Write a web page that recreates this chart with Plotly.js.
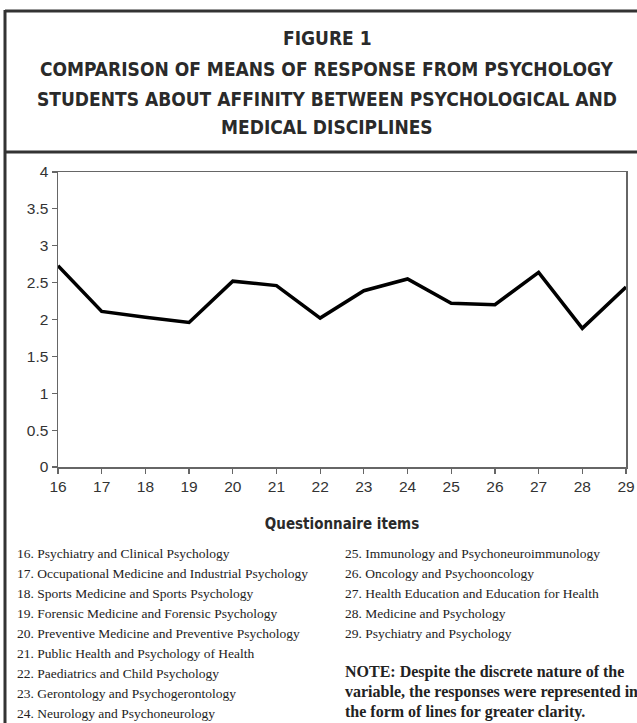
<!DOCTYPE html>
<html>
<head>
<meta charset="utf-8">
<script src="https://cdn.plot.ly/plotly-3.0.1.min.js"></script>
<style>html,body{margin:0;padding:0;background:#fff;}#chart{width:637px;height:723px;}</style>
</head>
<body>
<div id="chart"></div>
<script>
var items = [16, 17, 18, 19, 20, 21, 22, 23, 24, 25, 26, 27, 28, 29];
var means = [2.73, 2.11, 2.03, 1.96, 2.52, 2.46, 2.02, 2.39, 2.55, 2.22, 2.20, 2.64, 1.88, 2.44];
var yTicks = [0, 0.5, 1, 1.5, 2, 2.5, 3, 3.5, 4];
var titleLines = [
  "FIGURE 1",
  "COMPARISON OF MEANS OF RESPONSE FROM PSYCHOLOGY",
  "STUDENTS ABOUT AFFINITY BETWEEN PSYCHOLOGICAL AND",
  "MEDICAL DISCIPLINES"
];
var xAxisTitle = "Questionnaire items";
var itemLabelsLeft = [
  "16. Psychiatry and Clinical Psychology",
  "17. Occupational Medicine and Industrial Psychology",
  "18. Sports Medicine and Sports Psychology",
  "19. Forensic Medicine and Forensic Psychology",
  "20. Preventive Medicine and Preventive Psychology",
  "21. Public Health and Psychology of Health",
  "22. Paediatrics and Child Psychology",
  "23. Gerontology and Psychogerontology",
  "24. Neurology and Psychoneurology"
];
var itemLabelsRight = [
  "25. Immunology and Psychoneuroimmunology",
  "26. Oncology and Psychooncology",
  "27. Health Education and Education for Health",
  "28. Medicine and Psychology",
  "29. Psychiatry and Psychology"
];
var noteLines = [
  "NOTE: Despite the discrete nature of the",
  "variable, the responses were represented in",
  "the form of lines for greater clarity."
];

// plot-area geometry (pixels)
var L = 58, R = 11, T = 172, Bm = 256, FW = 637, FH = 723;
var PW = FW - L - R, PH = FH - T - Bm, PB = FH - Bm;
function px(x) { return (x - L) / PW; }
function py(y) { return (PB - y) / PH; }

var titleFont = {family: "DejaVu Sans Condensed, DejaVu Sans, sans-serif", size: 19, color: "#2a2a2a"};
var annotations = [];
var titleY = [38, 69, 99, 127];
titleLines.forEach(function (t, i) {
  annotations.push({text: "<b>" + t + "</b>", xref: "paper", yref: "paper", x: px(327), y: py(titleY[i]),
    xanchor: "center", yanchor: "middle", showarrow: false, font: titleFont});
});
var listFont = {family: "Liberation Serif, Times New Roman, serif", size: 13.5, color: "#222"};
itemLabelsLeft.forEach(function (t, i) {
  annotations.push({text: t, xref: "paper", yref: "paper", x: px(15), y: py(553 + i * 20.1),
    xanchor: "left", yanchor: "middle", showarrow: false, font: listFont});
});
itemLabelsRight.forEach(function (t, i) {
  annotations.push({text: t, xref: "paper", yref: "paper", x: px(343), y: py(553 + i * 20.1),
    xanchor: "left", yanchor: "middle", showarrow: false, font: listFont});
});
noteLines.forEach(function (t, i) {
  annotations.push({text: "<b>" + t + "</b>", xref: "paper", yref: "paper", x: px(343), y: py(672 + i * 20),
    xanchor: "left", yanchor: "middle", showarrow: false,
    font: {family: "Liberation Serif, Times New Roman, serif", size: 16, color: "#222"}});
});

var borderLine = {color: "#333", width: 3};
var shapes = [
  {type: "line", xref: "paper", yref: "paper", x0: px(5), x1: px(5), y0: py(10), y1: py(740), line: borderLine},
  {type: "line", xref: "paper", yref: "paper", x0: px(5), x1: px(660), y0: py(11), y1: py(11), line: borderLine},
  {type: "line", xref: "paper", yref: "paper", x0: px(5), x1: px(660), y0: py(152), y1: py(152), line: borderLine}
];

var trace = {x: items, y: means, type: "scatter", mode: "lines",
  line: {color: "#000", width: 3.5}, hoverinfo: "x+y"};

var axisFont = {family: "Liberation Sans, Arial, sans-serif", size: 15.5, color: "#333"};
var layout = {
  width: FW, height: FH,
  margin: {l: L, r: R, t: T, b: Bm, pad: 0},
  paper_bgcolor: "#fff", plot_bgcolor: "#fff",
  showlegend: false,
  xaxis: {range: [16, 29], tickvals: items, ticktext: items.map(String),
    showgrid: false, zeroline: false, showline: true, linecolor: "#666", linewidth: 1.5, mirror: true,
    ticks: "outside", ticklen: 5, tickcolor: "#666", tickwidth: 1.2,
    tickfont: axisFont,
    title: {text: "<b>" + xAxisTitle + "</b>", standoff: 24,
      font: {family: "DejaVu Sans Condensed, DejaVu Sans, sans-serif", size: 15, color: "#2a2a2a"}}},
  yaxis: {range: [0, 4], tickvals: yTicks, ticktext: yTicks.map(String),
    showgrid: false, zeroline: false, showline: true, linecolor: "#666", linewidth: 1.5, mirror: true,
    ticks: "outside", ticklen: 5, tickcolor: "#666", tickwidth: 1.2,
    tickfont: axisFont},
  annotations: annotations,
  shapes: shapes
};
Plotly.newPlot("chart", [trace], layout, {displayModeBar: false, staticPlot: true});
</script>
</body>
</html>
